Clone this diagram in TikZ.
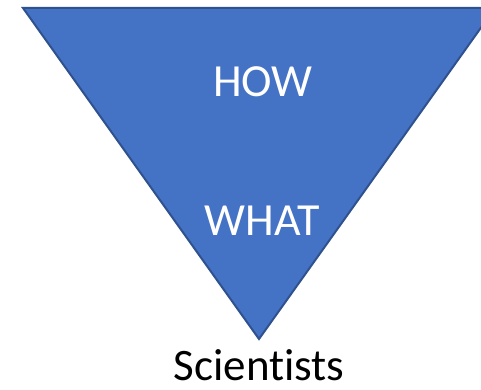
\documentclass[tikz,border=0pt]{standalone}
\usepackage{fontspec}
\setmainfont[Ligatures={NoCommon}]{Carlito}
\definecolor{funnelblue}{HTML}{4472C4}
\definecolor{funneledge}{HTML}{2F528F}
\tikzset{
  funnel/.style={fill=funnelblue,draw=funneledge,line width=2pt,line join=miter},
  inword/.style={text=white,anchor=base,inner sep=0pt,font=\fontsize{46}{50}\selectfont},
  outword/.style={text=black,anchor=base,inner sep=0pt,font=\fontsize{45}{48}\selectfont}
}

\begin{document}
\begin{tikzpicture}[x=1pt,y=-1pt]
  \useasboundingbox (0,0) rectangle (481,390);
  \clip (0,0) rectangle (481,390);
  \coordinate (topleft)  at (23,8);
  \coordinate (topright) at (495,8);
  \coordinate (tip)      at (259,339);
  \draw[funnel] (topleft) -- (topright) -- (tip) -- cycle;
  \node[inword]  (how)        at (263,97)  {HOW};
  \node[inword]  (what)       at (262.5,235) {WHAT};
  \node[outword] (scientists) at (259,380) {Scientists};
\end{tikzpicture}
\end{document}
